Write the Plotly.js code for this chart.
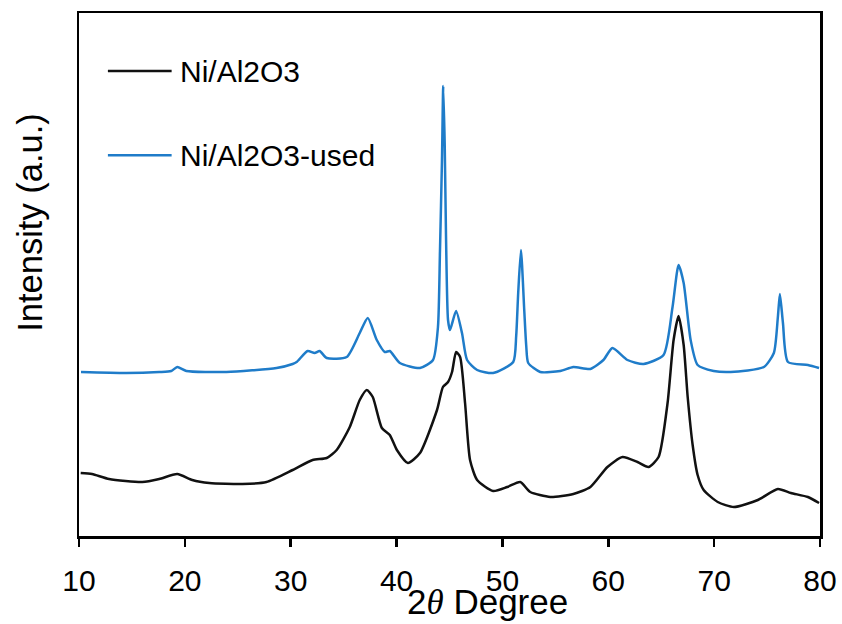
<!DOCTYPE html>
<html>
<head>
<meta charset="utf-8">
<script src="https://cdn.plot.ly/plotly-3.0.1.min.js"></script>
<style>html,body{margin:0;padding:0;background:#fff;}#chart{width:842px;height:624px;}</style>
</head>
<body>
<div id="chart"></div>
<script>
// 2-theta positions (degrees) and intensities (arbitrary units)
var freshTheta = [10.16, 11.23, 12.84, 15.97, 17.58, 19.28, 20.70, 22.31, 25.44, 27.71, 30.18, 32.07, 33.40, 34.34, 35.58, 36.52, 37.19, 37.75, 38.61, 39.36, 40.03, 41.07, 42.21, 43.82, 44.38, 44.86, 45.24, 45.62, 46.00, 46.47, 46.94, 47.61, 49.12, 50.45, 51.68, 52.63, 54.52, 56.70, 58.31, 59.92, 61.34, 62.76, 63.80, 64.75, 65.60, 66.17, 66.64, 67.12, 67.50, 67.97, 68.44, 69.01, 70.34, 71.86, 74.13, 76.02, 77.25, 78.86, 79.91];
var freshInt   = [63, 62, 57, 54, 57, 62, 56, 53, 52, 54, 66, 76, 78, 86, 109, 136, 146, 139, 108, 101, 86, 73, 83, 126, 149, 154, 164, 184, 179, 133, 76, 56, 45, 49, 54, 44, 39, 42, 49, 69, 79, 74, 69, 79, 133, 196, 220, 191, 139, 91, 61, 46, 34, 29, 36, 47, 43, 39, 33];

var usedTheta = [10.19, 14.45, 17.58, 18.71, 19.28, 20.14, 23.92, 28.66, 30.18, 30.56, 31.60, 32.26, 32.73, 33.40, 35.29, 36.52, 37.28, 38.13, 38.89, 39.36, 40.31, 42.21, 43.44, 43.91, 44.10, 44.29, 44.41, 44.55, 44.67, 44.86, 45.05, 45.62, 46.18, 46.66, 47.61, 49.12, 51.02, 51.30, 51.49, 51.75, 52.06, 52.25, 52.44, 53.57, 55.47, 56.70, 58.31, 59.54, 60.39, 61.81, 63.33, 65.22, 66.07, 66.64, 67.12, 67.78, 68.44, 69.96, 71.57, 74.70, 75.64, 76.02, 76.21, 76.50, 76.97, 78.86, 79.91];
var usedInt   = [164, 163, 164, 165, 169, 165, 164, 168, 172, 174, 185, 183, 185, 178, 179, 203, 218, 196, 184, 185, 173, 168, 176, 209, 285, 376, 450, 390, 300, 216, 206, 225, 203, 176, 166, 163, 174, 200, 243, 286, 226, 190, 173, 164, 165, 169, 167, 176, 188, 176, 172, 181, 229, 271, 253, 196, 171, 165, 164, 169, 183, 219, 242, 213, 174, 171, 168];

var seriesNames = ['Ni/Al2O3', 'Ni/Al2O3-used'];
var seriesColors = ['#111111', '#1f7cc9'];
var xTicks = [10, 20, 30, 40, 50, 60, 70, 80];

var traces = [
  {x: freshTheta, y: freshInt, name: seriesNames[0], type: 'scatter', mode: 'lines',
   line: {color: seriesColors[0], width: 2.5, shape: 'spline', smoothing: 0.6}, showlegend: false},
  {x: usedTheta, y: usedInt, name: seriesNames[1], type: 'scatter', mode: 'lines',
   line: {color: seriesColors[1], width: 2.5, shape: 'spline', smoothing: 0.6}, showlegend: false}
];

var font = 'Liberation Sans, Arial, sans-serif';
var legendY = [0.889, 0.728];
var shapes = [], annotations = [];
for (var i = 0; i < seriesNames.length; i++) {
  shapes.push({type: 'line', xref: 'paper', yref: 'paper', x0: 0.039, x1: 0.125, y0: legendY[i], y1: legendY[i],
               line: {color: seriesColors[i], width: 2.5}});
  annotations.push({xref: 'paper', yref: 'paper', x: 0.134, y: legendY[i], xanchor: 'left', yanchor: 'middle',
                    text: seriesNames[i], showarrow: false, font: {family: font, size: 30, color: '#000'}});
}
annotations.push({xref: 'paper', yref: 'paper', x: 0.551, y: -0.126, xanchor: 'center', yanchor: 'middle',
  text: '2<span style="font-family:\'Liberation Serif\',serif;font-style:italic">θ</span> Degree', showarrow: false,
  font: {family: font, size: 35, color: '#000'}});
annotations.push({xref: 'paper', yref: 'paper', x: -0.066, y: 0.599, xanchor: 'center', yanchor: 'middle',
  text: 'Intensity (a.u.)', textangle: -90, showarrow: false, font: {family: font, size: 34.5, color: '#000'}});

var layout = {
  width: 842, height: 624,
  margin: {l: 79, r: 22, t: 13, b: 88},
  paper_bgcolor: '#fff', plot_bgcolor: '#fff',
  showlegend: false,
  xaxis: {range: [10, 80], tickvals: xTicks, ticktext: xTicks.map(String), ticks: 'outside', ticklen: 8, tickwidth: 2.5,
          tickcolor: '#000', showline: true, linecolor: '#000', linewidth: 2.5, mirror: true, showgrid: false, zeroline: false,
          ticklabelstandoff: 8,
          tickfont: {family: font, size: 30, color: '#000'}},
  yaxis: {range: [0, 523], showticklabels: false, ticks: '', showline: true, linecolor: '#000', linewidth: 2.5,
          mirror: true, showgrid: false, zeroline: false},
  shapes: shapes,
  annotations: annotations
};
Plotly.newPlot('chart', traces, layout, {displayModeBar: false, staticPlot: true});
</script>
</body>
</html>
